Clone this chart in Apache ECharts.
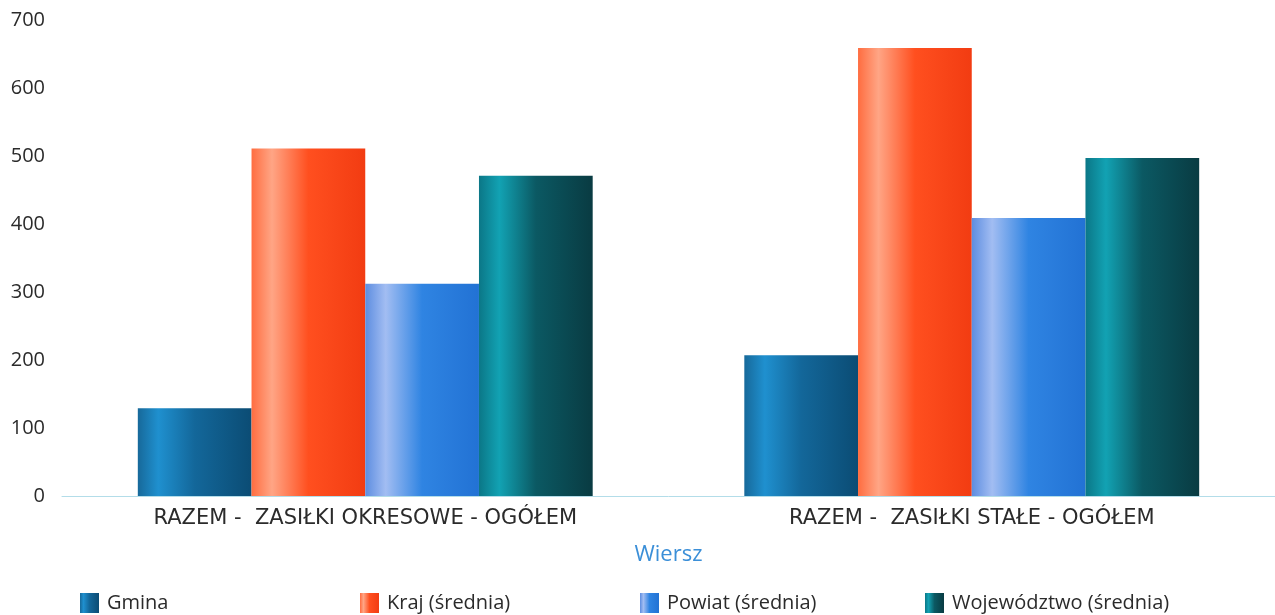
<!DOCTYPE html>
<html>
<head>
<meta charset="utf-8">
<script src="https://cdn.jsdelivr.net/npm/echarts@6/dist/echarts.min.js"></script>
<style>html,body{margin:0;padding:0;background:#fff}#c{width:1275px;height:615px}</style>
</head>
<body>
<div id="c"></div>
<script>
const categories = ['RAZEM -  ZASIŁKI OKRESOWE - OGÓŁEM', 'RAZEM -  ZASIŁKI STAŁE - OGÓŁEM'];
const seriesNames = ['Gmina', 'Kraj (średnia)', 'Powiat (średnia)', 'Województwo (średnia)'];
const gmina = [129, 207];
const kraj = [511, 659];
const powiat = [312, 409];
const wojewodztwo = [471, 497];
const yTicks = [0, 100, 200, 300, 400, 500, 600, 700];
const axisName = 'Wiersz';

const palettes = [
  ['#17699a', '#1f90cf', '#13679a', '#0b4c74'],
  ['#ff6d40', '#ffa585', '#ff4f1f', '#f23c12'],
  ['#5d8de0', '#a2bdf2', '#2f84e2', '#2272d4'],
  ['#0b7787', '#12a2b3', '#0b5963', '#093b42']
];
function grad(p) {
  return new echarts.graphic.LinearGradient(0, 0, 1, 0, [
    {offset: 0, color: p[0]},
    {offset: 0.18, color: p[1]},
    {offset: 0.5, color: p[2]},
    {offset: 1, color: p[3]}
  ]);
}
const values = [gmina, kraj, powiat, wojewodztwo];
const legendLeft = [80, 360, 640, 925];
const font = 'Open Sans, Noto Sans, sans-serif';

const chart = echarts.init(document.getElementById('c'));
chart.setOption({
  animation: false,
  textStyle: {fontFamily: font},
  grid: {left: 62, right: 0, top: 20, bottom: 119, containLabel: false},
  legend: seriesNames.map((n, i) => ({
    data: [n],
    left: legendLeft[i],
    top: 593,
    padding: 0,
    itemWidth: 19,
    itemHeight: 20,
    itemGap: 4,
    icon: 'rect',
    textStyle: {fontSize: 20, color: '#2b2b2b', fontFamily: font, padding: [0, 0, 0, 3]}
  })),
  xAxis: {
    type: 'category',
    data: categories,
    name: axisName,
    nameLocation: 'middle',
    nameGap: 48,
    nameTextStyle: {color: '#3b8fd8', fontSize: 22, fontFamily: font},
    axisLine: {lineStyle: {color: '#b3dde9', width: 1}},
    axisTick: {show: false},
    axisLabel: {color: '#2b2b2b', fontSize: 21, margin: 12, fontFamily: 'DejaVu Sans, sans-serif'}
  },
  yAxis: {
    type: 'value',
    min: 0, max: 700, interval: 100,
    axisLine: {show: false},
    axisTick: {show: false},
    splitLine: {show: false},
    axisLabel: {color: '#2b2b2b', fontSize: 20, margin: 17, fontFamily: font}
  },
  series: seriesNames.map((n, i) => ({
    name: n,
    type: 'bar',
    data: values[i],
    barGap: '0%',
    barCategoryGap: '25%',
    itemStyle: {color: grad(palettes[i])}
  }))
});
</script>
</body>
</html>
